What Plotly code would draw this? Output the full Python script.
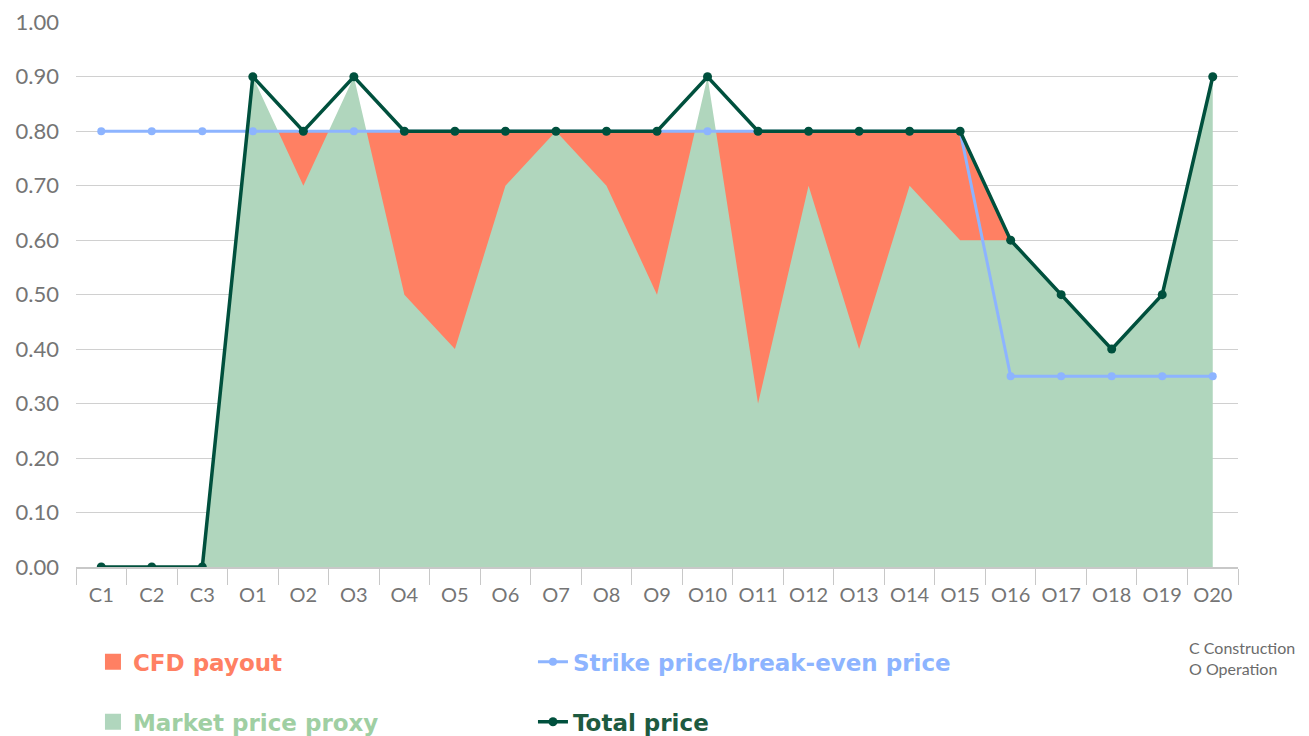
import plotly.graph_objects as go

periods = ['C1', 'C2', 'C3', 'O1', 'O2', 'O3', 'O4', 'O5', 'O6', 'O7', 'O8', 'O9', 'O10',
           'O11', 'O12', 'O13', 'O14', 'O15', 'O16', 'O17', 'O18', 'O19', 'O20']

market_price = [0, 0, 0, 0.9, 0.7, 0.9, 0.5, 0.4, 0.7, 0.8, 0.7, 0.5, 0.9,
                0.3, 0.7, 0.4, 0.7, 0.6, 0.6, 0.5, 0.4, 0.5, 0.9]

strike_price = [0.8, 0.8, 0.8, 0.8, 0.8, 0.8, 0.8, 0.8, 0.8, 0.8, 0.8, 0.8, 0.8,
                0.8, 0.8, 0.8, 0.8, 0.8, 0.35, 0.35, 0.35, 0.35, 0.35]

total_price = [0, 0, 0, 0.9, 0.8, 0.9, 0.8, 0.8, 0.8, 0.8, 0.8, 0.8, 0.9,
               0.8, 0.8, 0.8, 0.8, 0.8, 0.6, 0.5, 0.4, 0.5, 0.9]

# upper edge of the CFD payout band (the market area is drawn over it)
cfd_upper = [0, 0, 0, 0.8, 0.8, 0.8, 0.8, 0.8, 0.8, 0.8, 0.8, 0.8, 0.8,
             0.8, 0.8, 0.8, 0.8, 0.8, 0.6, 0, 0, 0, 0]

y_ticks = [0, 0.1, 0.2, 0.3, 0.4, 0.5, 0.6, 0.7, 0.8, 0.9, 1.0]

RED = '#FF8063'
GREEN = '#B0D6BD'
GREEN_TXT = '#9FCFA3'
BLUE = '#8DB4FF'
DARK = '#00503D'
DARK_TXT = '#1D5A40'
GREY = '#757575'
FONT = 'Lato, Noto Sans, sans-serif'
LEG_FONT = 'DejaVu Sans, sans-serif'

fig = go.Figure()

fig.add_trace(go.Scatter(x=periods, y=cfd_upper, mode='none', fill='tozeroy',
                         fillcolor=RED, showlegend=False, hoverinfo='skip'))
fig.add_trace(go.Scatter(x=periods, y=market_price, mode='none', fill='tozeroy',
                         fillcolor=GREEN, showlegend=False, hoverinfo='skip'))
fig.add_trace(go.Scatter(x=periods, y=strike_price, mode='lines+markers',
                         line=dict(color=BLUE, width=3), marker=dict(color=BLUE, size=8),
                         name=f"<span style='color:{BLUE}'><b>Strike price/break-even price</b></span>",
                         legend='legend', legendrank=2))
fig.add_trace(go.Scatter(x=periods, y=total_price, mode='lines+markers',
                         line=dict(color=DARK, width=3.5), marker=dict(color=DARK, size=9),
                         name=f"<span style='color:{DARK_TXT}'><b>Total price</b></span>",
                         legend='legend2', legendrank=2))

# legend swatches for the two areas
fig.add_trace(go.Scatter(x=[None], y=[None], mode='markers',
                         marker=dict(symbol='square', size=16, color=RED),
                         name=f"<span style='color:{RED}'><b>CFD payout</b></span>",
                         legend='legend', legendrank=1))
fig.add_trace(go.Scatter(x=[None], y=[None], mode='markers',
                         marker=dict(symbol='square', size=16, color=GREEN),
                         name=f"<span style='color:{GREEN_TXT}'><b>Market price proxy</b></span>",
                         legend='legend2', legendrank=1))

legend_style = dict(orientation='h', xanchor='left', yanchor='middle', x=0.0146,
                    entrywidth=395, entrywidthmode='pixels',
                    font=dict(family=LEG_FONT, size=23), bgcolor='rgba(0,0,0,0)')

# page has an 8px body margin, so the figure is a bit smaller than the window
fig.update_layout(
    width=1301, height=728,
    margin=dict(l=68, r=71, t=14, b=169, autoexpand=False),
    paper_bgcolor='white', plot_bgcolor='white',
    font=dict(family=FONT, color=GREY),
    legend=dict(y=-0.174, **legend_style),
    legend2=dict(y=-0.284, **legend_style),
    xaxis=dict(type='category', range=[-0.5, 22.5], showgrid=False,
               showline=True, linecolor='#C8C8C8', linewidth=1.5,
               ticks='outside', tickson='boundaries', ticklen=16, tickcolor='#C8C8C8',
               tickfont=dict(size=20, color=GREY), ticklabelstandoff=9),
    yaxis=dict(range=[0, 1.0005], tickmode='array', tickvals=y_ticks, tickformat='.2f',
               showgrid=True, gridcolor='#D0D0D0', gridwidth=1, zeroline=False, showline=False,
               tickfont=dict(size=22, color=GREY), ticks='', ticklabelstandoff=16,
               ticklabeloverflow='allow'),
    annotations=[dict(text='C Construction<br>O Operation', xref='paper', yref='paper',
                      x=0.956, y=-0.167, xanchor='left', yanchor='middle', align='left',
                      showarrow=False, font=dict(family=FONT, size=16, color='#6B6B6B'))],
)

fig.write_html("out.html")
